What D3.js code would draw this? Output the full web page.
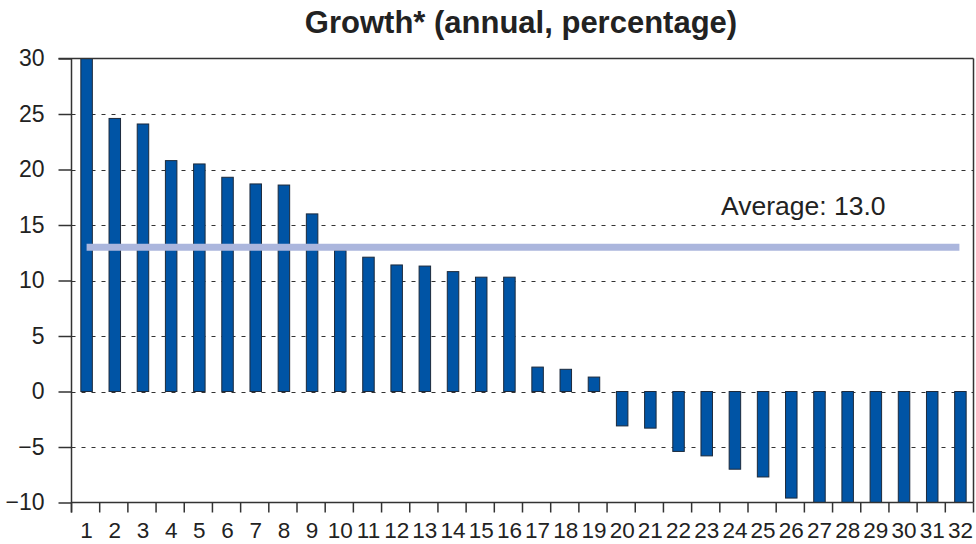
<!DOCTYPE html>
<meta charset="utf-8">
<head>
    <title>Growth chart</title>
    <style>
        html, body {
            margin: 0;
            padding: 0;
            background: #fff;
        }

        body {
          font-family: "Liberation Sans", Arial, Helvetica, sans-serif;
          color: #222;
        }

        #chart .grid line {
          stroke: #333;
          stroke-width: 1;
          stroke-dasharray: 4,6;
        }

        #chart .frame line {
          stroke: #333;
          stroke-width: 1.5;
        }

        #chart .bars rect {
          fill: #0054a5;
          stroke: #1c2a3c;
          stroke-width: 1;
        }

        #chart .avg line {
          stroke: #abb6dd;
          stroke-width: 7;
        }

        #chart text {
          fill: #222;
        }
    </style>
</head>
<body>
    <svg id="chart" width="976" height="544"></svg>
    <script src="https://cdn.jsdelivr.net/npm/d3@7"></script>
    <script>
        // values
        let categories = d3.range(1, 33).map(String);
        let growth = [30, 24.6, 24.1, 20.8, 20.5, 19.3, 18.7, 18.6, 16.0, 12.7,
                      12.1, 11.4, 11.3, 10.8, 10.3, 10.3, 2.2, 2.0, 1.3, -3.1,
                      -3.3, -5.4, -5.8, -7.0, -7.7, -9.6, -10, -10, -10, -10,
                      -10, -10];
        let yTicks = [30, 25, 20, 15, 10, 5, 0, -5, -10];
        let average = 13.0;
        let title = 'Growth* (annual, percentage)';

        let plotLeft = 71.5, plotRight = 973.5, plotTop = 58.5, plotBottom = 502.5;

        let x = d3.scaleBand()
                    .domain(categories)
                    .range([plotLeft, plotRight])
                    .padding(0);

        let y = d3.scaleLinear()
                    .domain([-10, 30])
                    .range([plotBottom, plotTop])
                    .clamp(true);

        let svg = d3.select('#chart');

        svg.append('text')
            .attr('x', 521)
            .attr('y', 33)
            .attr('text-anchor', 'middle')
            .style('font-size', '31px')
            .style('font-weight', 'bold')
            .text(title);

        // dashed gridlines
        svg.append('g').attr('class', 'grid')
            .selectAll('line')
            .data(yTicks.filter(d => d !== 30 && d !== -10))
            .enter()
            .append('line')
            .attr('x1', plotLeft)
            .attr('x2', plotRight)
            .attr('y1', d => Math.round(y(d)) + 0.5)
            .attr('y2', d => Math.round(y(d)) + 0.5);

        let barW = 11.5;
        svg.append('g').attr('class', 'bars')
            .selectAll('rect')
            .data(growth)
            .enter()
            .append('rect')
            .attr('x', (d, i) => x(categories[i]) + (x.bandwidth() - barW) / 2 + 1)
            .attr('width', barW)
            .attr('y', d => y(Math.max(0, d)))
            .attr('height', d => Math.abs(y(d) - y(0)));

        // average line
        let g = svg.append('g').attr('class', 'avg');
        g.append('line')
            .attr('x1', x(categories[0]) + x.bandwidth() / 2 + 1)
            .attr('x2', x(categories[categories.length - 1]) + x.bandwidth() / 2)
            .attr('y1', y(average))
            .attr('y2', y(average));

        svg.append('text')
            .attr('x', 721)
            .attr('y', 215)
            .style('font-size', '26.5px')
            .text('Average: ' + average.toFixed(1));

        // frame: top and right border
        let frame = svg.append('g').attr('class', 'frame');
        frame.append('line').attr('x1', plotLeft - 13).attr('x2', plotRight).attr('y1', plotTop).attr('y2', plotTop);
        frame.append('line').attr('x1', plotRight).attr('x2', plotRight).attr('y1', plotTop).attr('y2', plotBottom);

        // y axis
        let yAxis = d3.axisLeft(y)
                        .tickValues(yTicks)
                        .tickSize(13)
                        .tickPadding(14)
                        .tickFormat(d3.format('d'));

        svg.append('g')
            .attr('transform', 'translate(' + plotLeft + ',0)')
            .call(yAxis)
            .call(a => a.select('.domain').attr('d', 'M0,' + plotTop + 'V' + (plotBottom + 10)))
            .call(a => a.selectAll('path, line').attr('stroke', '#333').attr('stroke-width', 1.5))
            .call(a => a.selectAll('text')
                .style('font-size', '23px')
                .style('font-family', '"Liberation Sans", Arial, sans-serif')
                .attr('fill', '#222'));

        // x axis: ticks at category boundaries, labels at centres
        let xAxis = d3.axisBottom(x)
                        .tickSize(0);

        let xa = svg.append('g')
            .attr('transform', 'translate(0,' + plotBottom + ')')
            .call(xAxis)
            .call(a => a.select('.domain').attr('d', 'M' + plotLeft + ',0H' + plotRight)
                .attr('stroke', '#333').attr('stroke-width', 1.5))
            .call(a => a.selectAll('text')
                .attr('y', 35)
                .attr('dy', null)
                .attr('transform', 'translate(1,0)')
                .style('font-size', '22.5px')
                .style('font-family', '"Liberation Sans", Arial, sans-serif')
                .attr('fill', '#222'));

        xa.selectAll('.bound')
            .data(categories.map(c => x(c)).concat([plotRight]))
            .enter()
            .append('line')
            .attr('class', 'bound')
            .attr('x1', d => d)
            .attr('x2', d => d)
            .attr('y1', 0)
            .attr('y2', 10)
            .attr('stroke', '#333')
            .attr('stroke-width', 1.5);
    </script>
</body>
</html>
